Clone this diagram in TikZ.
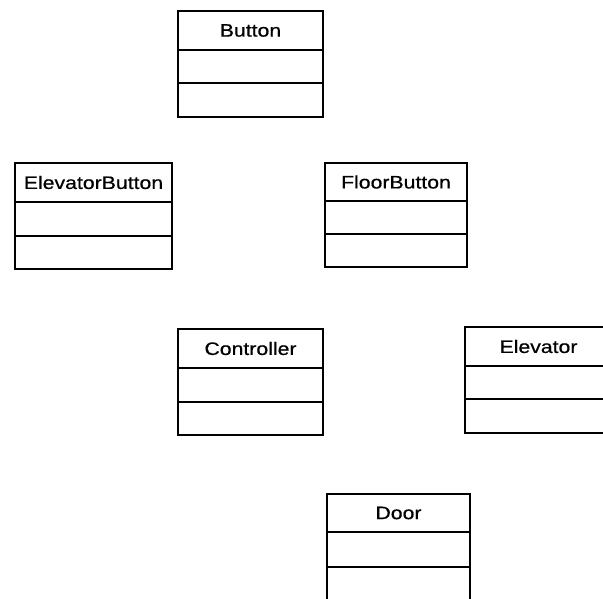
\documentclass[tikz,border=0pt]{standalone}
\usepackage{fontspec}
\setmainfont[FakeStretch=1.18,FakeBold=0.6]{Liberation Sans}
% name, x1, y1, x2, y2, divider1, divider2, text
\newcommand\umlclassbox[8]{%
  \draw[boxline] (#2,#3) rectangle (#4,#5);
  \draw[boxline] (#2,#6) -- (#4,#6);
  \draw[boxline] (#2,#7) -- (#4,#7);
  \node[classtitle] (#1) at ({(#2+#4)/2},{(#3+#6)/2}) {#8};
}
\begin{document}
\begin{tikzpicture}[x=1pt,y=-1pt,
  boxline/.style={draw=black, line width=1.7pt},
  classtitle/.style={font=\fontsize{18}{20}\selectfont, inner sep=0pt}]
\useasboundingbox (0,0) rectangle (603,598);
\clip (0,0) rectangle (603,598);
\umlclassbox{button}{178}{11}{323}{117}{50}{83}{Button}
\umlclassbox{elevatorbutton}{15}{163}{172}{269}{202}{236}{ElevatorButton}
\umlclassbox{floorbutton}{325}{163}{467}{267}{201}{234}{FloorButton}
\umlclassbox{controller}{178}{329}{323}{435}{368}{402}{Controller}
\umlclassbox{elevator}{465}{327}{612}{433}{366}{399}{Elevator}
\umlclassbox{door}{327}{494}{470}{625}{532}{567}{Door}
\end{tikzpicture}
\end{document}
